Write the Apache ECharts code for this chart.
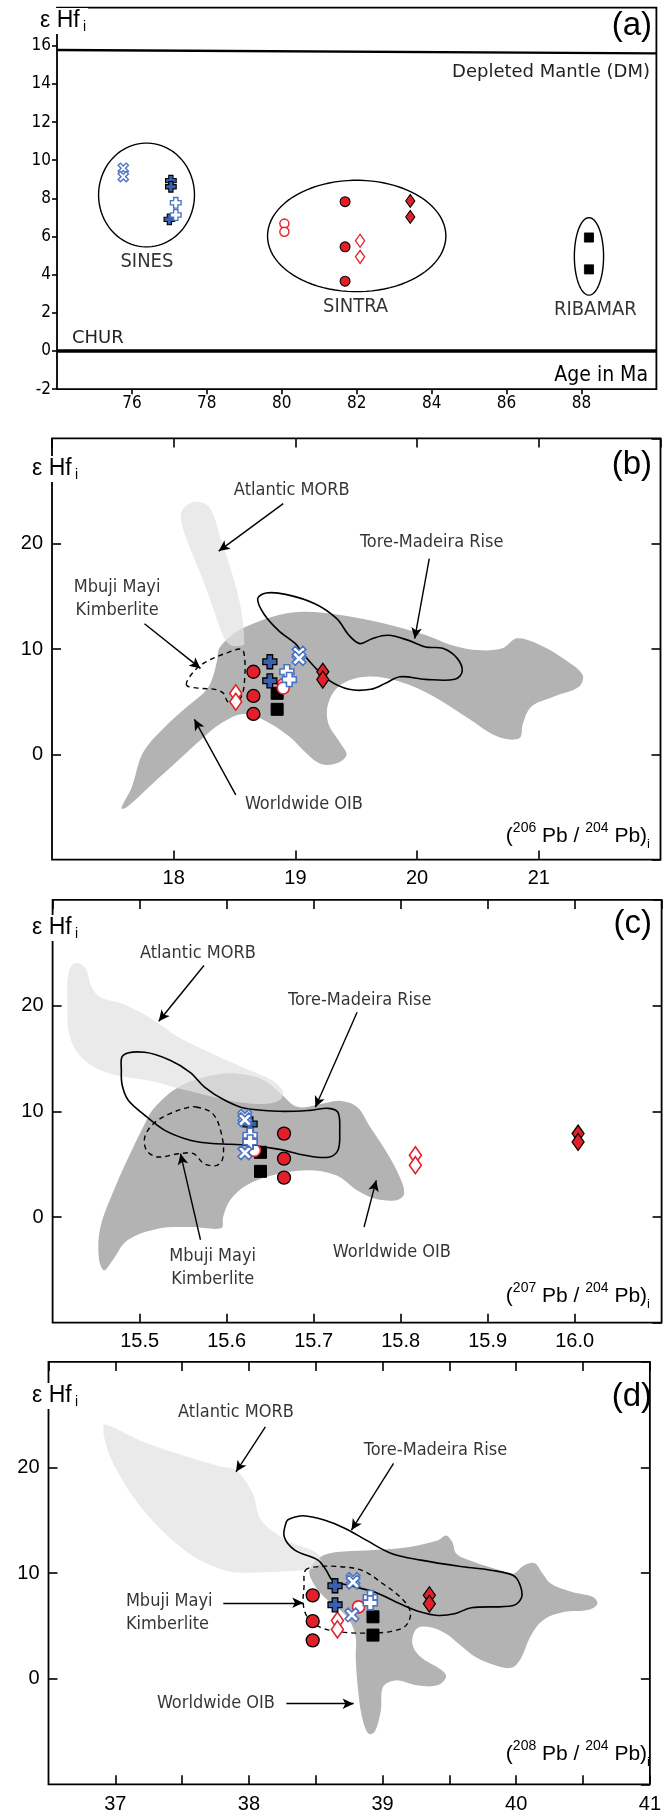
<!DOCTYPE html>
<html>
<head>
<meta charset="utf-8">
<script src="https://cdn.jsdelivr.net/npm/echarts@6/dist/echarts.min.js"></script>
<style>
  html, body { margin: 0; padding: 0; background: #fff; }
  #chart { width: 664px; height: 1816px; }
</style>
</head>
<body>
<div id="chart"></div>
<script>
// ---- panel (a): eHf vs age (Ma)
const aXMark = [[75.77, 9.58], [75.77, 9.14]];
const aCrossDark = [[77.04, 8.93], [77.04, 8.61], [77.0, 6.9]];
const aCrossOpen = [[77.17, 7.77], [77.17, 7.13]];
const aCircle = [[81.69, 7.83], [81.69, 5.46], [81.69, 3.66]];
const aCircleOpen = [[80.07, 6.68], [80.07, 6.25]];
const aDiamondOpen = [[82.09, 5.78], [82.09, 4.94]];
const aDiamond = [[83.43, 7.87], [83.43, 7.03]];
const aSquare = [[88.2, 5.95], [88.2, 4.28]];
const aGroups = [[76.39, 8.18, 1.28, 2.72], [82.0, 6.03, 2.38, 2.92], [88.2, 4.96, 0.39, 2.03]];
const aGroupNames = ['SINES', 'SINTRA', 'RIBAMAR'];
const aGroupLabelAt = [[76.4, 4.7], [81.97, 2.3], [88.37, 2.15]];
const aDM = [[74, 15.78], [90, 15.6]];
const aCHUR = [[74, 0], [90, 0]];

// ---- panel (b): eHf vs 206Pb/204Pb
const bCircle = [[18.655, 7.84], [18.655, 5.54], [18.655, 3.83]];
const bCrossDark = [[18.79, 8.79], [18.79, 6.98]];
const bCrossOpen = [[18.93, 7.84], [18.95, 7.1]];
const bXMark = [[19.03, 9.6], [19.03, 9.1]];
const bDiamond = [[19.225, 7.84], [19.225, 7.1]];
const bDiamondOpen = [[18.51, 5.79], [18.51, 4.99]];
const bSquare = [[18.85, 5.79], [18.85, 4.27]];
const bCircleOpen = [[18.9, 6.6], [18.9, 6.3]];
const bOIB = [[17.57, -5.13], [17.657, -3.07], [17.745, 0.09], [17.902, 2.31], [18.112, 4.53], [18.269, 6.11],
  [18.322, 7.37], [18.357, 8.96], [18.374, 10.06], [18.462, 11.17], [18.566, 11.96], [18.811, 13.07],
  [19.056, 13.54], [19.371, 13.23], [19.72, 12.44], [20.07, 11.33], [20.28, 10.38], [20.49, 9.9],
  [20.7, 10.06], [20.82, 11.01], [20.98, 10.54], [21.22, 8.96], [21.36, 7.53], [21.33, 6.42],
  [21.12, 5.47], [20.94, 4.53], [20.87, 2.94], [20.84, 1.52], [20.66, 1.68], [20.42, 3.42],
  [20.14, 5.47], [19.86, 6.9], [19.58, 7.37], [19.37, 6.58], [19.27, 4.84], [19.27, 2.94],
  [19.37, 1.04], [19.42, -0.06], [19.34, -0.85], [19.21, -0.92], [19.09, 0.09], [18.95, 1.68],
  [18.74, 3.26], [18.57, 3.83], [18.39, 2.94], [18.22, 1.36], [18.04, -0.54], [17.83, -2.75], [17.62, -4.97]];
const bMORB = [[18.16, 23.96], [18.29, 23.5], [18.39, 20.3], [18.48, 17.15], [18.55, 13.99], [18.58, 10.5],
  [18.55, 10.3], [18.47, 10.35], [18.41, 11.14], [18.32, 13.99], [18.22, 17.15], [18.11, 20.3], [18.06, 22.85]];
const bTMR = [[19.0, 10.51], [18.86, 11.77], [18.74, 13.35], [18.69, 14.78], [18.76, 15.32], [18.92, 15.19],
  [19.16, 14.3], [19.34, 12.88], [19.44, 11.3], [19.53, 10.51], [19.63, 10.98], [19.76, 11.3], [19.93, 10.82],
  [20.07, 10.19], [20.21, 10.06], [20.33, 9.11], [20.37, 7.85], [20.31, 7.12], [20.07, 7.12], [19.86, 7.37],
  [19.74, 6.74], [19.62, 6.17], [19.44, 6.17], [19.27, 7.06], [19.13, 8.64], [19.04, 9.9]];
const bMbuji = [[18.105, 6.58], [18.164, 7.85], [18.269, 8.8], [18.427, 9.59], [18.559, 9.97], [18.584, 8.96],
  [18.584, 7.37], [18.566, 5.79], [18.514, 4.84], [18.444, 5.0], [18.409, 5.79], [18.339, 6.17], [18.217, 6.27]];

// ---- panel (c): eHf vs 207Pb/204Pb
const cCircle = [[15.666, 7.89], [15.666, 5.52], [15.666, 3.72]];
const cSquare = [[15.639, 6.12], [15.639, 4.32]];
const cXMark = [[15.621, 9.52], [15.621, 9.2], [15.621, 6.08]];
const cCrossDark = [[15.627, 8.8], [15.627, 7.07]];
const cCrossOpen = [[15.627, 7.73], [15.627, 7.1]];
const cCircleOpen = [[15.632, 6.3]];
const cDiamondOpen = [[15.817, 5.84], [15.817, 4.9]];
const cDiamond = [[16.004, 7.89], [16.004, 7.1]];
const cOIB = [[15.516, 10.25], [15.545, 12.3], [15.584, 13.41], [15.614, 13.56], [15.643, 12.93], [15.662, 11.67],
  [15.682, 10.41], [15.711, 10.73], [15.731, 10.98], [15.75, 10.41], [15.765, 8.52], [15.785, 5.99],
  [15.799, 3.79], [15.804, 2.21], [15.795, 1.58], [15.77, 1.74], [15.75, 2.52], [15.726, 3.94],
  [15.692, 4.42], [15.653, 3.94], [15.623, 3.0], [15.604, 1.58], [15.596, 0], [15.594, -1.04],
  [15.56, -0.95], [15.521, -1.1], [15.486, -2.21], [15.469, -4.1], [15.459, -5.05], [15.453, -3.79],
  [15.455, -0.95], [15.472, 2.84], [15.491, 6.31], [15.506, 8.83]];
const cMORB = [[15.425, 24.01], [15.437, 23.63], [15.445, 21.74], [15.455, 20.79], [15.481, 20.16], [15.511, 18.9],
  [15.545, 17.0], [15.584, 15.43], [15.623, 14.01], [15.653, 12.9], [15.665, 11.8], [15.66, 11.0],
  [15.638, 10.69], [15.604, 11.0], [15.555, 11.96], [15.511, 12.9], [15.467, 13.53], [15.437, 14.8],
  [15.42, 17.0], [15.417, 20.47], [15.418, 23.0]];
const cTMR = [[15.481, 15.3], [15.506, 15.58], [15.535, 14.83], [15.558, 13.69], [15.575, 12.27], [15.598, 11.04],
  [15.621, 10.28], [15.661, 10.0], [15.696, 10.09], [15.717, 10.28], [15.728, 9.9], [15.73, 8.2],
  [15.728, 6.31], [15.717, 5.65], [15.69, 5.84], [15.661, 6.4], [15.627, 6.78], [15.604, 6.88],
  [15.581, 6.97], [15.558, 7.26], [15.529, 8.2], [15.506, 9.62], [15.487, 11.04], [15.48, 12.46], [15.479, 13.88]];
const cMbuji = [[15.565, 10.41], [15.584, 9.78], [15.594, 7.89], [15.596, 5.68], [15.589, 4.89], [15.574, 5.05],
  [15.562, 5.99], [15.545, 5.99], [15.521, 5.68], [15.508, 6.31], [15.506, 7.57], [15.516, 8.83],
  [15.535, 9.78], [15.555, 10.35]];

// ---- panel (d): eHf vs 208Pb/204Pb
const dCircle = [[38.477, 7.89], [38.477, 5.45], [38.477, 3.63]];
const dCrossDark = [[38.644, 8.8], [38.644, 7.0]];
const dXMark = [[38.779, 9.4], [38.779, 9.15], [38.77, 6.04]];
const dCircleOpen = [[38.82, 6.8]];
const dCrossOpen = [[38.908, 7.69], [38.908, 7.18]];
const dSquare = [[38.928, 5.86], [38.928, 4.13]];
const dDiamondOpen = [[38.662, 5.5], [38.662, 4.67]];
const dDiamond = [[39.35, 7.9], [39.35, 7.1]];
const dOIB = [[38.453, 10.25], [38.531, 11.51], [38.657, 11.99], [38.877, 12.15], [39.16, 12.4], [39.412, 13.09],
  [39.475, 13.56], [39.522, 12.93], [39.553, 11.83], [39.664, 11.14], [39.884, 10.25], [39.978, 9.94],
  [40.057, 10.73], [40.135, 10.95], [40.198, 9.94], [40.261, 8.99], [40.418, 8.2], [40.575, 7.73],
  [40.607, 7.1], [40.544, 6.53], [40.355, 6.31], [40.198, 5.52], [40.104, 3.94], [40.041, 2.05],
  [39.978, 1.1], [39.884, 1.1], [39.695, 2.05], [39.569, 3.31], [39.475, 4.26], [39.349, 4.89],
  [39.255, 4.73], [39.223, 3.31], [39.286, 2.05], [39.443, 0.79], [39.475, 0.16], [39.412, -0.63],
  [39.255, -0.63], [39.097, -0.16], [39.003, -0.79], [38.987, -3.0], [38.94, -5.05], [38.893, -5.2],
  [38.846, -3.63], [38.814, -0.79], [38.799, 2.05], [38.799, 3.94], [38.752, 5.52], [38.657, 6.78],
  [38.563, 7.73], [38.484, 8.99]];
const dMORB = [[36.912, 24.01], [36.975, 23.85], [37.179, 22.59], [37.462, 21.32], [37.777, 20.13], [37.903, 19.75],
  [38.028, 17.54], [38.091, 15.02], [38.28, 13.12], [38.469, 12.18], [38.531, 11.55], [38.516, 10.6],
  [38.343, 10.22], [37.903, 10.06], [37.777, 10.44], [37.588, 11.55], [37.399, 13.44], [37.211, 15.96],
  [37.053, 18.8], [36.943, 21.64]];
const dTMR = [[38.28, 14.86], [38.264, 13.44], [38.343, 12.18], [38.516, 11.23], [38.579, 10.25], [38.626, 9.31],
  [38.752, 8.83], [38.94, 8.2], [39.129, 7.1], [39.286, 6.31], [39.412, 5.99], [39.538, 6.15], [39.664, 6.72],
  [39.978, 6.94], [40.041, 7.73], [40.025, 8.99], [39.978, 9.78], [39.821, 10.25], [39.6, 10.6],
  [39.286, 11.23], [39.066, 11.86], [38.877, 13.12], [38.72, 14.23], [38.563, 15.02], [38.406, 15.43], [38.311, 15.17]];
const dMbuji = [[38.421, 10.25], [38.484, 10.57], [38.657, 10.63], [38.846, 10.25], [39.003, 8.99], [39.145, 7.57],
  [39.208, 6.31], [39.176, 5.05], [39.066, 4.48], [38.877, 4.32], [38.689, 4.42], [38.531, 4.89],
  [38.437, 5.84], [38.406, 7.1], [38.412, 8.68]];

// field labels and arrows (data coordinates)
const fieldNames = ['Atlantic MORB', 'Tore-Madeira Rise', 'Mbuji Mayi\nKimberlite', 'Worldwide OIB'];
const bNoteAt = [[18.97, 25.06], [20.12, 20.16], [17.535, 14.8], [19.07, -4.72]];
const bArrows = [[[18.9, 23.8], [18.37, 19.3]], [[20.1, 18.58], [19.98, 10.98]], [[17.76, 12.4], [18.22, 8.16]], [[18.51, -3.86], [18.17, 3.32]]];
const cNoteAt = [[15.567, 24.9], [15.753, 20.47], [15.584, -4.81], [15.79, -3.31]];
const cArrows = [[[15.574, 23.79], [15.522, 18.52]], [[15.75, 19.37], [15.702, 10.38]], [[15.57, -2.15], [15.547, 5.99]], [[15.758, -0.95], [15.772, 3.47]]];
const dNoteAt = [[37.903, 25.27], [39.396, 21.64], [37.079, 6.2], [37.311, -2.37]];
const dArrows = [[[38.123, 23.85], [37.903, 19.59]], [[39.082, 20.38], [38.767, 14.07]], [[37.808, 7.19], [38.406, 7.19]], [[38.28, -2.37], [38.783, -2.37]]];

const NARROW = "'Liberation Sans Narrow','DejaVu Sans Condensed','Roboto Condensed',sans-serif";
const HELV = "'Liberation Sans',Arial,sans-serif";
const RED = '#e3202a', BLUE = '#4a73c5', NAVY = '#3a5fab';
const PLUS = 'path://M3,0H7V3H10V7H7V10H3V7H0V3H3Z';
const XSYM = 'path://M3.6,0H6.4V3.6H10V6.4H6.4V10H3.6V6.4H0V3.6H3.6Z';

const chart = echarts.init(document.getElementById('chart'));

const grid = [
  { left: 57, top: 7.6, width: 599.4, height: 381.6 },
  { left: 52, top: 438.4, width: 608.5, height: 421.2 },
  { left: 52.6, top: 899.9, width: 609, height: 422.8 },
  { left: 48.5, top: 1361.9, width: 609, height: 422.4 }
].map(g => Object.assign(g, { show: true, borderColor: '#000', borderWidth: 1.8 }));

const tick = (inside, length) => ({ show: true, inside, length, lineStyle: { color: '#000', width: 1.6 } });
const noLine = { show: false, onZero: false };
const numLabel = { color: '#000', fontSize: 20, fontFamily: HELV, margin: 9 };

const xAxis = [
  { gridIndex: 0, type: 'value', min: 74, max: 90, interval: 2, axisLine: noLine, splitLine: { show: false },
    axisTick: tick(false, 5), axisLabel: { showMinLabel: false, showMaxLabel: false, color: '#000', fontSize: 17, fontFamily: NARROW, margin: 6 } },
  { gridIndex: 1, type: 'value', min: 17, max: 22, interval: 1, axisLine: noLine, splitLine: { show: false },
    axisTick: tick(true, 9), axisLabel: Object.assign({ showMinLabel: false, showMaxLabel: false }, numLabel) },
  { gridIndex: 2, type: 'value', min: 15.4, max: 16.1, interval: 0.1, axisLine: noLine, splitLine: { show: false },
    axisTick: tick(true, 9), axisLabel: Object.assign({ showMinLabel: false, showMaxLabel: false, formatter: v => v.toFixed(1) }, numLabel) },
  { gridIndex: 3, type: 'value', min: 36.5, max: 41, interval: 0.5, axisLine: noLine, splitLine: { show: false },
    axisTick: tick(true, 9), axisLabel: Object.assign({ showMinLabel: false,
      formatter: v => (Math.abs(v - Math.round(v)) < 1e-6 ? String(Math.round(v)) : '') }, numLabel, { margin: 10 }) },
  { gridIndex: 1, type: 'value', position: 'top', min: 17, max: 22, interval: 1, axisLine: noLine, splitLine: { show: false },
    axisTick: tick(true, 9), axisLabel: { show: false } },
  { gridIndex: 2, type: 'value', position: 'top', min: 15.4, max: 16.1, interval: 0.1, axisLine: noLine, splitLine: { show: false },
    axisTick: tick(true, 9), axisLabel: { show: false } },
  { gridIndex: 3, type: 'value', position: 'top', min: 36.5, max: 41, interval: 0.5, axisLine: noLine, splitLine: { show: false },
    axisTick: tick(true, 9), axisLabel: { show: false } }
];

const yHf = gi => ({ gridIndex: gi, type: 'value', min: -10, max: 30, interval: 10, axisLine: noLine, splitLine: { show: false },
  axisTick: tick(true, 9), axisLabel: Object.assign({ showMinLabel: false, showMaxLabel: false }, numLabel) });
const yRight = gi => ({ gridIndex: gi, type: 'value', position: 'right', min: -10, max: 30, interval: 10, axisLine: noLine,
  splitLine: { show: false }, axisTick: tick(true, 9), axisLabel: { show: false } });

const yAxis = [
  { gridIndex: 0, type: 'value', min: -2, max: 18, interval: 2, axisLine: noLine, splitLine: { show: false },
    axisTick: tick(false, 5), axisLabel: { showMaxLabel: false, color: '#000', fontSize: 17, fontFamily: NARROW, margin: 6 } },
  yHf(1), yHf(2), yHf(3), yRight(1), yRight(2), yRight(3)
];

// marker look for each sample group
function markerStyle(kind, big) {
  const k = big ? 1 : 0.76;
  const st = {
    square: { symbol: 'rect', size: 12, fill: '#000', stroke: '#000', w: 1 },
    circle: { symbol: 'circle', size: 13, fill: RED, stroke: '#000', w: 1.3 },
    circleOpen: { symbol: 'circle', size: 12, fill: '#fff', stroke: RED, w: 1.6 },
    diamond: { symbol: 'diamond', size: [12, 17], fill: RED, stroke: '#000', w: 1.3 },
    diamondOpen: { symbol: 'diamond', size: [12, 17], fill: '#fff', stroke: RED, w: 1.6 },
    crossDark: { symbol: PLUS, size: 14, fill: NAVY, stroke: '#000', w: 1.3 },
    crossOpen: { symbol: PLUS, size: 14, fill: '#fff', stroke: BLUE, w: 1.6 },
    xMark: { symbol: XSYM, size: 15, fill: '#fff', stroke: BLUE, w: 1.6, rot: 45 }
  }[kind];
  return {
    symbol: st.symbol,
    symbolRotate: st.rot || 0,
    symbolSize: Array.isArray(st.size) ? st.size.map(v => v * k) : st.size * k,
    itemStyle: { color: st.fill, borderColor: st.stroke, borderWidth: st.w * (big ? 1 : 0.85), opacity: 1 }
  };
}

const kinds = ['square', 'circle', 'diamondOpen', 'diamond', 'circleOpen', 'crossDark', 'crossOpen', 'xMark'];
const panelMarkers = [
  [aSquare, aCircle, aDiamondOpen, aDiamond, aCircleOpen, aCrossDark, aCrossOpen, aXMark],
  [bSquare, bCircle, bDiamondOpen, bDiamond, bCircleOpen, bCrossDark, bCrossOpen, bXMark],
  [cSquare, cCircle, cDiamondOpen, cDiamond, cCircleOpen, cCrossDark, cCrossOpen, cXMark],
  [dSquare, dCircle, dDiamondOpen, dDiamond, dCircleOpen, dCrossDark, dCrossOpen, dXMark]
];

const series = [];

// shaded fields and outlines
function shape(gi, pts, style, z) {
  return {
    type: 'custom', xAxisIndex: gi, yAxisIndex: gi, data: pts, encode: { x: 0, y: 1 }, z, silent: true, clip: true,
    renderItem: (params, api) => {
      if (params.dataIndex !== 0) return;
      return { type: 'polygon', shape: { points: pts.map(p => api.coord(p)), smooth: 0.35 }, style };
    }
  };
}
const oibStyle = { fill: '#b3b3b3', stroke: null };
const morbStyle = { fill: 'rgba(226,226,226,0.72)', stroke: null };
const tmrStyle = { fill: 'none', stroke: '#000', lineWidth: 1.6 };
const mbStyle = { fill: 'none', stroke: '#000', lineWidth: 1.4, lineDash: [5, 4] };
[[1, bOIB, bMORB, bTMR, bMbuji], [2, cOIB, cMORB, cTMR, cMbuji], [3, dOIB, dMORB, dTMR, dMbuji]].forEach(([gi, oib, morb, tmr, mb]) => {
  series.push(shape(gi, oib, oibStyle, 1), shape(gi, morb, morbStyle, 2), shape(gi, tmr, tmrStyle, 3), shape(gi, mb, mbStyle, 3));
});

// panel (a) group ellipses
series.push({
  type: 'custom', xAxisIndex: 0, yAxisIndex: 0, data: aGroups, encode: { x: 0, y: 1 }, z: 2, silent: true,
  renderItem: (params, api) => {
    const c = api.coord([api.value(0), api.value(1)]);
    const r = api.size([api.value(2), api.value(3)]);
    const pts = [];
    for (let i = 0; i < 90; i++) {
      const t = i / 90 * Math.PI * 2;
      pts.push([c[0] + r[0] * Math.cos(t), c[1] + r[1] * Math.sin(t)]);
    }
    return { type: 'polygon', shape: { points: pts }, style: { fill: 'none', stroke: '#000', lineWidth: 1.4 } };
  }
});
series.push({
  type: 'scatter', xAxisIndex: 0, yAxisIndex: 0, symbolSize: 1, itemStyle: { color: 'rgba(0,0,0,0)' }, silent: true, z: 5,
  data: aGroupLabelAt.map((p, i) => ({ value: p, name: aGroupNames[i] })),
  label: { show: true, position: 'inside', formatter: p => p.name, fontFamily: NARROW, fontSize: 20, color: '#000' }
});
series.push({ type: 'line', xAxisIndex: 0, yAxisIndex: 0, data: aDM, symbol: 'none', silent: true, z: 4,
  lineStyle: { color: '#000', width: 2.4 } });
series.push({ type: 'line', xAxisIndex: 0, yAxisIndex: 0, data: aCHUR, symbol: 'none', silent: true, z: 4,
  lineStyle: { color: '#000', width: 3.4 } });

// sample markers
panelMarkers.forEach((sets, gi) => {
  sets.forEach((data, i) => {
    series.push(Object.assign({ type: 'scatter', xAxisIndex: gi, yAxisIndex: gi, data, silent: true, z: 6 + i },
      markerStyle(kinds[i], gi > 0)));
  });
});

// field names and arrows
[[1, bNoteAt, bArrows], [2, cNoteAt, cArrows], [3, dNoteAt, dArrows]].forEach(([gi, at, arrows]) => {
  series.push({
    type: 'scatter', xAxisIndex: gi, yAxisIndex: gi, symbolSize: 1, itemStyle: { color: 'rgba(0,0,0,0)' }, silent: true, z: 20,
    data: at.map((p, i) => ({ value: p, name: fieldNames[i],
      label: { align: (gi === 3 && i >= 2) ? 'left' : 'center' } })),
    label: { show: true, position: 'inside', formatter: p => p.name, fontFamily: NARROW, fontSize: 18, color: '#000', lineHeight: 23 },
    markLine: {
      silent: true, symbol: ['none', 'arrow'], symbolSize: [8, 11], animation: false,
      lineStyle: { color: '#000', width: 1.4, type: 'solid' }, label: { show: false },
      data: arrows.map(([p, q]) => [{ coord: p }, { coord: q }])
    }
  });
});

// texts around the frames
const hfRich = {
  m: { fontSize: 23, fontFamily: HELV, fill: '#000' },
  s: { fontSize: 14, fontFamily: HELV, fill: '#000', verticalAlign: 'bottom' }
};
const pbRich = {
  m: { fontSize: 21, fontFamily: HELV, fill: '#000' },
  p: { fontSize: 14, fontFamily: HELV, fill: '#000', verticalAlign: 'top' },
  s: { fontSize: 13, fontFamily: HELV, fill: '#000', verticalAlign: 'bottom' }
};
const txt = (x, y, style) => ({ type: 'text', x, y, z: 100, silent: true, style: Object.assign({ fill: '#000' }, style) });
const hfLabel = (x, y) => txt(x, y, { text: '{m|ε Hf} {s|i}', rich: hfRich, lineHeight: 26, verticalAlign: 'middle',
  backgroundColor: '#fff', padding: [0, 2, 0, 2] });
const pbLabel = (x, y, iso) => txt(x, y, { text: '{m|(}{p|' + iso + '}{m| Pb / }{p|204}{m| Pb)}{s|i}', rich: pbRich,
  lineHeight: 30, align: 'right', verticalAlign: 'middle' });
const letter = (x, y, t) => txt(x, y, { text: t, fontSize: 33, fontFamily: HELV, align: 'right', verticalAlign: 'middle' });

const graphic = [
  hfLabel(38, 21), letter(652, 26, '(a)'),
  txt(650, 72, { text: 'Depleted Mantle (DM)', fontSize: 18, fontFamily: "'DejaVu Sans',sans-serif", fill: '#222', align: 'right', verticalAlign: 'middle' }),
  txt(72, 338, { text: 'CHUR', fontSize: 18, fontFamily: "'DejaVu Sans',sans-serif", fill: '#222', align: 'left', verticalAlign: 'middle' }),
  txt(648, 376, { text: 'Age in Ma', fontSize: 21, fontFamily: NARROW, align: 'right', verticalAlign: 'middle' }),
  hfLabel(30, 469), letter(652, 465, '(b)'), pbLabel(650, 836, '206'),
  hfLabel(30, 928), letter(652, 924, '(c)'), pbLabel(650, 1296, '207'),
  hfLabel(30, 1396), letter(652, 1397, '(d)'), pbLabel(650, 1754, '208')
];

chart.setOption({
  animation: false,
  backgroundColor: '#fff',
  grid, xAxis, yAxis, series, graphic
});
</script>
</body>
</html>
